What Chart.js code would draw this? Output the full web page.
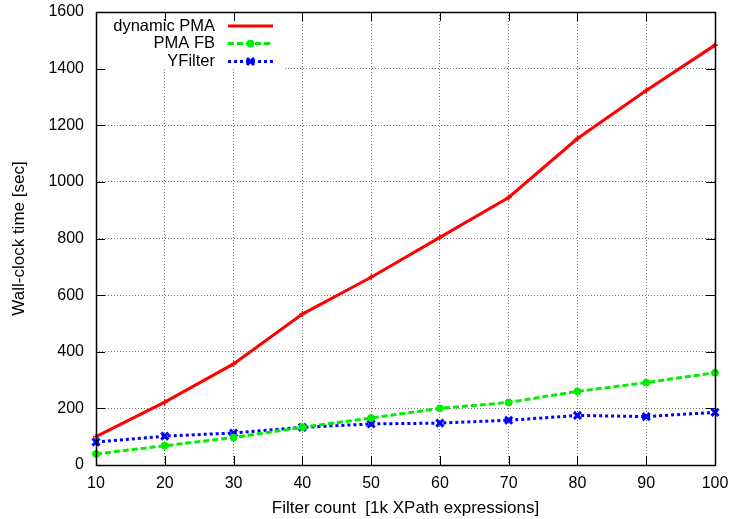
<!DOCTYPE html>
<html>
<head>
<meta charset="utf-8">
<script src="https://cdn.jsdelivr.net/npm/chart.js@4/dist/chart.umd.min.js"></script>
<style>
  html, body { margin: 0; padding: 0; background: #fff; }
  #wrap { width: 733px; height: 519px; }
</style>
</head>
<body>
<div id="wrap"><canvas id="c" width="733" height="519"></canvas></div>
<script>
// Filter count in thousands of XPath expressions
const filterCounts = [10, 20, 30, 40, 50, 60, 70, 80, 90, 100];
// Wall-clock time in seconds
const dynamicPMA = [100, 222, 357, 533, 663, 804, 945, 1153, 1323, 1483];
const pmaFB      = [39, 68, 97, 133, 166, 200, 221, 260, 291, 326];
const yFilter    = [81, 102, 113, 133, 145, 148, 158, 175, 171, 186];
const xTicks = [10, 20, 30, 40, 50, 60, 70, 80, 90, 100];
const yTicks = [0, 200, 400, 600, 800, 1000, 1200, 1400, 1600];
const seriesNames = ['dynamic PMA', 'PMA FB', 'YFilter'];

const FONT = '"Liberation Sans", Arial, sans-serif';
const pts = arr => arr.map((v, i) => ({ x: filterCounts[i], y: v }));

const styles = [
  { color: '#ff0000', dash: [], pointStyle: 'cross', radius: 3, pw: 1.5 },
  { color: '#00ee00', dash: [6, 3], pointStyle: 'circle', radius: 3.5, pw: 1 },
  { color: '#0000ff', dash: [3, 3], pointStyle: 'crossRot', radius: 5, pw: 3 }
];
const series = [dynamicPMA, pmaFB, yFilter];

// Frame, inward ticks, legend box
const frame = {
  id: 'frame',
  beforeDatasetsDraw(chart) {
    const { ctx, chartArea: a, scales: { x, y } } = chart;
    ctx.save();
    // legend background covers the grid
    ctx.fillStyle = '#fff';
    ctx.fillRect(a.left + 1, a.top + 1, 186, 56);
    ctx.strokeStyle = '#000';
    ctx.lineWidth = 1;
    ctx.beginPath();
    const L = 9;
    xTicks.forEach(v => {
      const px = Math.round(x.getPixelForValue(v)) + 0.5;
      ctx.moveTo(px, a.bottom); ctx.lineTo(px, a.bottom - L);
      ctx.moveTo(px, a.top); ctx.lineTo(px, a.top + L);
    });
    yTicks.forEach(v => {
      const py = Math.round(y.getPixelForValue(v)) + 0.5;
      ctx.moveTo(a.left, py); ctx.lineTo(a.left + L, py);
      ctx.moveTo(a.right, py); ctx.lineTo(a.right - L, py);
    });
    ctx.stroke();
    ctx.restore();
  },
  afterDraw(chart) {
    const { ctx, chartArea: a } = chart;
    ctx.save();
    ctx.strokeStyle = '#000';
    ctx.lineWidth = 1.5;
    ctx.strokeRect(Math.round(a.left) + 0.5, Math.round(a.top) + 0.5,
                   Math.round(a.right - a.left), Math.round(a.bottom - a.top));
    // legend
    ctx.font = '16.5px ' + FONT;
    ctx.textAlign = 'right';
    ctx.textBaseline = 'middle';
    const rows = [26, 43.5, 61.5];
    seriesNames.forEach((name, i) => {
      const s = styles[i];
      const ry = rows[i];
      ctx.fillStyle = '#000';
      ctx.fillText(name, 215, ry);
      ctx.strokeStyle = s.color;
      ctx.fillStyle = s.color;
      ctx.lineWidth = 3;
      ctx.setLineDash(s.dash);
      ctx.beginPath();
      ctx.moveTo(228, ry); ctx.lineTo(273, ry);
      ctx.stroke();
      ctx.setLineDash([]);
      if (i > 0) {
        ctx.lineWidth = s.pw;
        Chart.helpers.drawPoint(ctx, {
          pointStyle: s.pointStyle, radius: s.radius, borderWidth: s.pw
        }, 250.5, ry);
      }
    });
    ctx.restore();
  }
};

const gridOpts = { color: '#777', lineWidth: 1, drawTicks: false };
const borderOpts = { display: false, dash: [1, 2] };

new Chart(document.getElementById('c'), {
  type: 'line',
  data: {
    datasets: series.map((arr, i) => ({
      label: seriesNames[i],
      data: pts(arr),
      borderColor: styles[i].color,
      backgroundColor: styles[i].color,
      borderWidth: 3,
      borderDash: styles[i].dash,
      pointStyle: styles[i].pointStyle,
      pointRadius: styles[i].radius,
      pointBorderWidth: styles[i].pw,
      pointBorderColor: styles[i].color,
      pointBackgroundColor: styles[i].color,
      tension: 0,
      fill: false,
      clip: false
    }))
  },
  options: {
    responsive: false,
    animation: false,
    devicePixelRatio: 1,
    layout: { padding: { top: 12, right: 18, left: 0, bottom: 0 } },
    plugins: { legend: { display: false }, tooltip: { enabled: false } },
    scales: {
      x: {
        type: 'linear', min: 10, max: 100,
        afterBuildTicks: s => { s.ticks = xTicks.map(v => ({ value: v })); },
        afterFit: s => { s.height = 54; s.paddingLeft = 0; s.paddingRight = 0; },
        grid: gridOpts,
        border: borderOpts,
        ticks: { color: '#000', font: { family: FONT, size: 16 }, padding: 9, maxRotation: 0,
                 callback: v => String(v) },
        title: { display: true, text: 'Filter count  [1k XPath expressions]', color: '#000',
                 font: { family: FONT, size: 17 }, padding: { top: 2, bottom: 0 } }
      },
      y: {
        type: 'linear', min: 0, max: 1600,
        afterBuildTicks: s => { s.ticks = yTicks.map(v => ({ value: v })); },
        afterFit: s => { s.width = 96; s.paddingTop = 0; s.paddingBottom = 0; },
        grid: gridOpts,
        border: borderOpts,
        ticks: { color: '#000', font: { family: FONT, size: 16 }, padding: 12,
                 callback: v => String(v) },
        title: { display: true, text: 'Wall-clock time [sec]', color: '#000',
                 font: { family: FONT, size: 17 }, padding: { top: 9, bottom: 0 } }
      }
    }
  },
  plugins: [frame]
});
</script>
</body>
</html>
